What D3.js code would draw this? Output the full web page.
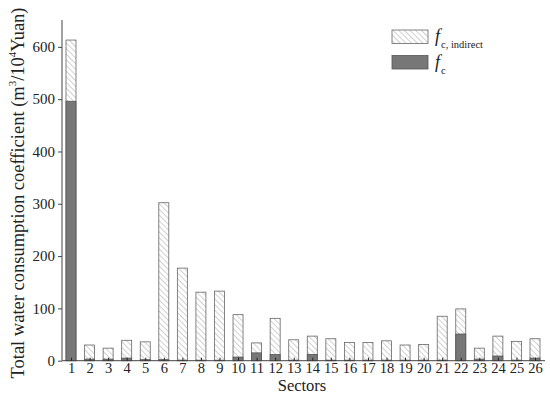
<!DOCTYPE html>
<html>
<head>
<meta charset="utf-8">
<script src="https://cdn.jsdelivr.net/npm/d3@7"></script>
<style>
  body { margin: 0; background: #fff; }
  svg text { font-family: "Liberation Serif", "Times New Roman", serif; fill: #222; }
</style>
</head>
<body>
<svg id="chart" width="550" height="395"></svg>
<script>
// sectors 1..26
var sectors = d3.range(1, 27).map(String);
// total coefficient (fc, indirect bar height)
var totalValues = [613, 30, 24, 39, 36, 302, 177, 131, 133, 88, 34, 81, 40, 47, 42, 35, 35, 38, 30, 31, 85, 99, 24, 47, 37, 42];
// direct part fc
var directValues = [496, 3, 3, 5, 2, 2, 1, 1, 1, 7, 15, 12, 1, 12, 1, 1, 1, 1, 1, 1, 1, 51, 3, 9, 1, 5];
var yTicks = [0, 100, 200, 300, 400, 500, 600];

var svg = d3.select("#chart");
var margin = {left: 62, right: 6, top: 20, bottom: 35};

var y = d3.scaleLinear().domain([0, 650]).range([360.7, 20.7]);
var x = d3.scalePoint().domain(sectors).range([71, 535]);
var barW = 10;

var defs = svg.append("defs");
var pat = defs.append("pattern")
    .attr("id", "hatch")
    .attr("patternUnits", "userSpaceOnUse")
    .attr("width", 4).attr("height", 4)
    .attr("patternTransform", "rotate(-45)");
pat.append("rect").attr("width", 4).attr("height", 4).attr("fill", "#fff");
pat.append("line").attr("x1", 0).attr("y1", 0).attr("x2", 0).attr("y2", 4)
    .attr("stroke", "#aaa").attr("stroke-width", 1.1);

var data = sectors.map(function(s, i){
    return {name: s, total: totalValues[i], direct: directValues[i]};
});

var g = svg.append("g");

g.selectAll("rect.total")
    .data(data)
    .enter()
    .append("rect")
    .attr("class", "total")
    .attr("x", function(d){ return x(d.name) - barW / 2 })
    .attr("y", function(d){ return y(d.total) })
    .attr("width", barW)
    .attr("height", function(d){ return y(0) - y(d.total) })
    .attr("fill", "url(#hatch)")
    .attr("stroke", "#666")
    .attr("stroke-width", 0.8);

g.selectAll("rect.direct")
    .data(data)
    .enter()
    .append("rect")
    .attr("class", "direct")
    .attr("x", function(d){ return x(d.name) - barW / 2 })
    .attr("y", function(d){ return y(d.direct) })
    .attr("width", barW)
    .attr("height", function(d){ return y(0) - y(d.direct) })
    .attr("fill", "#777")
    .attr("stroke", "#555")
    .attr("stroke-width", 0.8);

// y axis
var yAxis = d3.axisLeft(y).tickValues(yTicks).tickSize(4).tickPadding(3);
var yg = svg.append("g")
    .attr("transform", "translate(" + margin.left + ",0)")
    .call(yAxis);
yg.select(".domain").attr("d", "M0," + y(0) + "V" + 20).attr("stroke", "#444");
yg.selectAll(".tick line").attr("stroke", "#444");
yg.selectAll(".tick text").style("font-size", "15px").attr("fill", "#222");

// x axis with inward ticks
var xAxis = d3.axisBottom(x).tickSize(-3).tickPadding(2);
var xg = svg.append("g")
    .attr("transform", "translate(0," + y(0) + ")")
    .call(xAxis);
xg.select(".domain").attr("d", "M" + margin.left + ",0H" + 545).attr("stroke", "#444");
xg.selectAll(".tick line").attr("stroke", "#222");
xg.selectAll(".tick text").style("font-size", "14.5px").attr("fill", "#222").attr("dy", "0.68em");

svg.append("text")
    .attr("x", 302).attr("y", 391)
    .attr("text-anchor", "middle")
    .style("font-size", "16.5px")
    .text("Sectors");

var yl = svg.append("text")
    .attr("transform", "translate(24,193) rotate(-90)")
    .attr("text-anchor", "middle")
    .style("font-size", "18.5px");
yl.append("tspan").text("Total water consumption coefficient (m");
yl.append("tspan").attr("dy", -8).style("font-size", "11px").text("3");
yl.append("tspan").attr("dy", 8).text("/10");
yl.append("tspan").attr("dy", -8).style("font-size", "11px").text("4");
yl.append("tspan").attr("dy", 8).text("Yuan)");

// legend
var legend = [
    {fill: "url(#hatch)", stroke: "#666", sub: "c, indirect", y: 30},
    {fill: "#777", stroke: "#555", sub: "c", y: 55.5}
];
var lg = svg.append("g").selectAll("g").data(legend).enter().append("g");
lg.append("rect")
    .attr("x", 392).attr("y", function(d){ return d.y })
    .attr("width", 36).attr("height", 13.5)
    .attr("fill", function(d){ return d.fill })
    .attr("stroke", function(d){ return d.stroke })
    .attr("stroke-width", 0.8);
var lt = lg.append("text")
    .attr("x", 435).attr("y", function(d){ return d.y + 12 })
    .style("font-size", "18px");
lt.append("tspan").style("font-style", "italic").text("f");
lt.append("tspan").attr("dy", 6).attr("dx", 1).style("font-size", "10.5px").text(function(d){ return d.sub });
</script>
</body>
</html>
